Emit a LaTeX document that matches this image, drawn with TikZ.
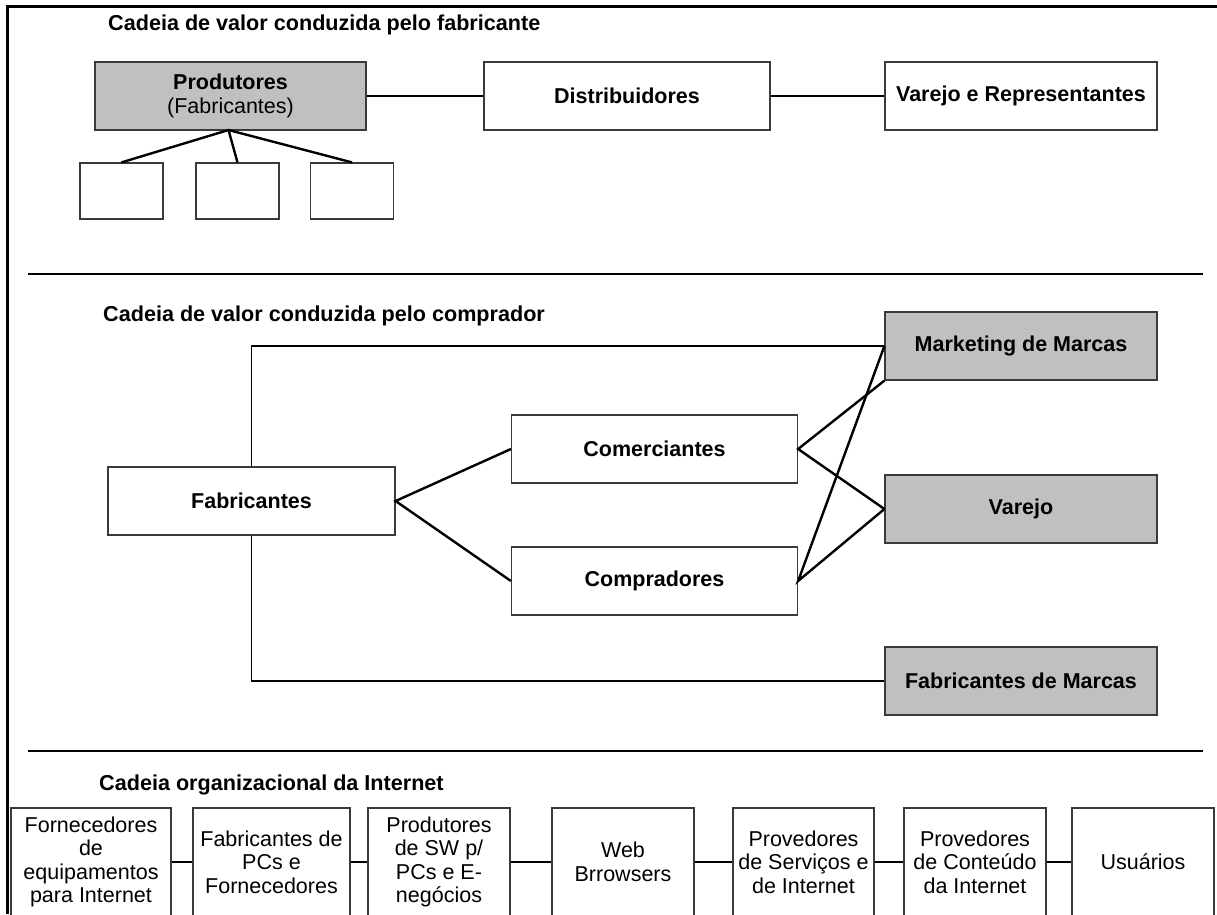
\documentclass[tikz,border=0pt]{standalone}
\usepackage{fontspec}
\setmainfont{Liberation Sans}
\definecolor{boxgray}{HTML}{C0C0C0}
\definecolor{edgegray}{HTML}{3A3A3A}
\begin{document}
\begin{tikzpicture}[x=1pt,y=-1pt,
  box/.style={draw=edgegray, line width=1.2pt, fill=white, inner sep=1pt,
    align=center, font=\fontsize{21.5}{23.5}\selectfont},
  boldbox/.style={box, font=\fontsize{21.5}{23.5}\selectfont\bfseries},
  shaded/.style={fill=boxgray},
  heading/.style={anchor=base west, inner sep=0pt, font=\fontsize{21.6}{24}\selectfont\bfseries},
  thinlink/.style={line width=1.4pt},
  thicklink/.style={line width=2.4pt},
  rule/.style={line width=2.8pt}]
\useasboundingbox (0,0) rectangle (1217,914);
\clip (0,0) rectangle (1217,914);

% outer frame (top and left sides) and section rules
\draw[rule] (1217,6.5) -- (7.5,6.5) -- (7.5,914);
\coordinate (r1a) at (28,274);  \coordinate (r1b) at (1203,274);
\coordinate (r2a) at (28,751);  \coordinate (r2b) at (1203,751);
\draw[rule] (r1a) -- (r1b);
\draw[rule] (r2a) -- (r2b);

% ---------- manufacturer-driven chain ----------
\node[heading] (t1) at (108,30) {Cadeia de valor conduzida pelo fabricante};
\node[boldbox, shaded, minimum width=271, minimum height=68] (prod) at (230.5,96)
  {Produtores\\\mdseries(Fabricantes)};
\node[boldbox, minimum width=286, minimum height=68] (dist) at (627,96) {Distribuidores};
\node[boldbox, minimum width=272, minimum height=68] (vrep) at (1021,96) {Varejo e Representantes};
\node[box, minimum width=83, minimum height=56] (s1) at (121.5,191) {};
\node[box, minimum width=83, minimum height=56] (s2) at (237.5,191) {};
\node[box, minimum width=83, minimum height=56] (s3) at (352,191) {};
\coordinate (pj) at (228.5,130);
\draw[thinlink] (prod.east) -- (dist.west);
\draw[thinlink] (dist.east) -- (vrep.west);
\draw[thicklink] (s1.north) -- (pj) -- (s3.north);
\draw[thicklink] (pj) -- (s2.north);

% ---------- buyer-driven chain ----------
\node[heading] (t2) at (103,321) {Cadeia de valor conduzida pelo comprador};
\node[boldbox, minimum width=287, minimum height=68] (fab) at (251.5,501) {Fabricantes};
\node[boldbox, minimum width=286, minimum height=68] (com) at (654.5,449) {Comerciantes};
\node[boldbox, minimum width=286, minimum height=68] (cpr) at (654.5,581) {Compradores};
\node[boldbox, shaded, minimum width=272, minimum height=68] (mkt) at (1021,346) {Marketing de Marcas};
\node[boldbox, shaded, minimum width=272, minimum height=68] (var) at (1021,509) {Varejo};
\node[boldbox, shaded, minimum width=272, minimum height=68] (fabm) at (1021,681) {Fabricantes de Marcas};
\draw[thinlink] (fab.north) |- (mkt.west);
\draw[thinlink] (fab.south) |- (fabm.west);
\draw[thicklink] (com.west) -- (fab.east) -- (cpr.west);
\draw[thicklink] (mkt.south west) -- (com.east) -- (var.west);
\draw[thicklink] (mkt.west) -- (cpr.east) -- (var.west);

% ---------- Internet organisational chain ----------
\node[heading] (t3) at (99,790) {Cadeia organizacional da Internet};
\node[box, minimum width=160, minimum height=108] (b1) at (91,862)
  {Fornecedores\\de\\equipamentos\\para Internet};
\node[box, minimum width=157, minimum height=108] (b2) at (271.5,862)
  {Fabricantes de\\PCs e\\Fornecedores};
\node[box, minimum width=142, minimum height=108] (b3) at (439,862)
  {Produtores\\de SW p/\\PCs e E-\\negócios};
\node[box, minimum width=142, minimum height=108] (b4) at (623,862)
  {Web\\Brrowsers};
\node[box, minimum width=141, minimum height=108] (b5) at (803.5,862)
  {Provedores\\de Serviços e\\de Internet};
\node[box, minimum width=142, minimum height=108] (b6) at (975,862)
  {Provedores\\de Conteúdo\\da Internet};
\node[box, minimum width=142, minimum height=108] (b7) at (1143,862)
  {Usuários};
\foreach \a/\b in {b1/b2,b2/b3,b3/b4,b4/b5,b5/b6,b6/b7}
  \draw[thicklink] (\a.east) -- (\b.west);
\end{tikzpicture}
\end{document}
